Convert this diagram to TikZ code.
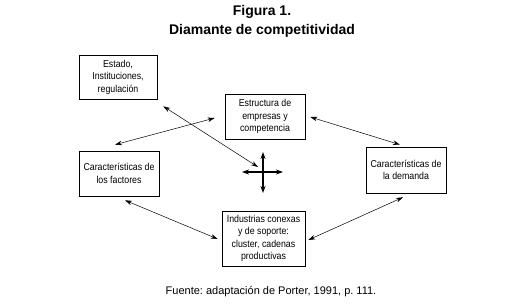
\documentclass[tikz,border=0pt]{standalone}
\usepackage{fontspec}
\setmainfont{Liberation Sans}
\newfontfamily\angosta[FakeStretch=0.88]{Liberation Sans}
\usetikzlibrary{arrows.meta, positioning}
\frenchspacing

\begin{document}
\begin{tikzpicture}[x=1pt, y=-1pt,
    factor/.style={draw, rectangle, line width=0.6pt, align=center, inner sep=1pt,
        font=\angosta\fontsize{10}{12.5}\selectfont},
    link/.style={{Stealth[length=7pt,width=4.5pt]}-{Stealth[length=7pt,width=4.5pt]}, line width=0.5pt},
    cruz/.style={-{Stealth[length=7pt,width=5pt]}, line width=1.2pt}]
    \useasboundingbox (0,0) rectangle (524,304);

    % titulo
    \node[anchor=base, align=center, font=\fontsize{14}{19}\selectfont\bfseries] (titulo) at (262,35)
        {Figura 1.\\Diamante de competitividad};

    % cajas del diamante
    \node[factor, minimum width=78pt, minimum height=44pt] (estado) at (118,77)
        {Estado,\\Instituciones,\\regulación};
    \node[factor, minimum width=80pt, minimum height=45pt] (estructura) at (265,116.5)
        {Estructura de\\empresas y\\competencia};
    \node[factor, minimum width=80pt, minimum height=45pt] (factores) at (119,173.5)
        {Características de\\los factores};
    \node[factor, minimum width=80pt, minimum height=46pt] (demanda) at (406,170)
        {Características de\\la demanda};
    \node[factor, minimum width=83pt, minimum height=55pt] (industrias) at (263.5,238.5)
        {Industrias conexas\\y de soporte:\\cluster, cadenas\\productivas};

    % cruz central
    \coordinate (centro) at (263,172);
    \draw[cruz] (centro) -- ++(-21,0);
    \draw[cruz] (centro) -- ++(20,0);
    \draw[cruz] (centro) -- ++(0,-20);
    \draw[cruz] (centro) -- ++(0,21);

    % relaciones
    \draw[link] ([shift={(6,7)}]estado.south east) -- ([shift={(-5,-5)}]centro);
    \draw[link] ([shift={(-4,-6)}]factores.north) -- ([shift={(-10,1.5)}]estructura.west);
    \draw[link] ([shift={(5,0.5)}]estructura.east) -- ([shift={(-6,-2)}]demanda.north);
    \draw[link] ([shift={(6,4)}]factores.south) -- ([shift={(-4,0.5)}]industrias.west);
    \draw[link] ([shift={(-3,4)}]demanda.south) -- ([shift={(3,1.5)}]industrias.east);

    % fuente
    \node[anchor=base, font=\fontsize{11}{13}\selectfont] (fuente) at (271,294)
        {Fuente: adaptación de Porter, 1991, p. 111.};
\end{tikzpicture}
\end{document}
